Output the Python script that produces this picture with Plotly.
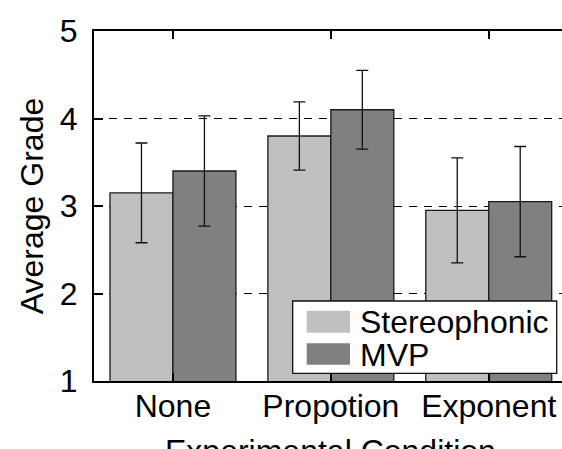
import plotly.graph_objects as go

# Experimental conditions and mean grades with error (half-range)
conditions = ["None", "Propotion", "Exponent"]
stereo_mean = [3.15, 3.80, 2.95]
stereo_err = [0.57, 0.39, 0.60]
mvp_mean = [3.40, 4.10, 3.05]
mvp_err = [0.63, 0.45, 0.63]
series_names = ["Stereophonic", "MVP"]
y_ticks = [1, 2, 3, 4, 5]

W, H = 562, 449
ML, MT, MB, MR = 94, 31, 68, 0
PW, PH = W - ML - MR, H - MT - MB

FONT = "Liberation Sans, Arial, sans-serif"
FS = 32
C_STEREO = "#c0c0c0"
C_MVP = "#808080"
EDGE = "#1a1a1a"


def px_x(p):
    return (p - ML) / PW


def px_y(p):
    return (H - MB - p) / PH


err_style = dict(type="data", width=6, thickness=1.3, color="#111111")

fig = go.Figure()
fig.add_trace(go.Bar(
    x=conditions, y=stereo_mean, name=series_names[0],
    marker=dict(color=C_STEREO, line=dict(color=EDGE, width=1.3)),
    error_y=dict(array=stereo_err, **err_style), showlegend=False,
))
fig.add_trace(go.Bar(
    x=conditions, y=mvp_mean, name=series_names[1],
    marker=dict(color=C_MVP, line=dict(color=EDGE, width=1.3)),
    error_y=dict(array=mvp_err, **err_style), showlegend=False,
))

# hand-built legend box with wide swatches
shapes = [
    dict(type="rect", xref="paper", yref="paper", layer="above",
         x0=px_x(292.7), x1=px_x(556.7), y0=px_y(373.3), y1=px_y(301),
         fillcolor="white", line=dict(color="#111111", width=1.3)),
    dict(type="rect", xref="paper", yref="paper", layer="above",
         x0=px_x(306.7), x1=px_x(350), y0=px_y(332.7), y1=px_y(310.7),
         fillcolor=C_STEREO, line=dict(width=0)),
    dict(type="rect", xref="paper", yref="paper", layer="above",
         x0=px_x(306.7), x1=px_x(350), y0=px_y(364.7), y1=px_y(343.3),
         fillcolor=C_MVP, line=dict(width=0)),
]
annotations = [
    dict(text=series_names[0], xref="paper", yref="paper",
         x=px_x(358), y=px_y(321.5), xanchor="left", yanchor="middle",
         showarrow=False, font=dict(family=FONT, size=FS, color="black")),
    dict(text=series_names[1], xref="paper", yref="paper",
         x=px_x(358), y=px_y(354.5), xanchor="left", yanchor="middle",
         showarrow=False, font=dict(family=FONT, size=FS, color="black")),
    dict(text="Experimental Condition", xref="x", yref="paper",
         x=1, y=px_y(431), xanchor="center", yanchor="top",
         showarrow=False, font=dict(family=FONT, size=FS, color="black")),
]

fig.update_layout(
    width=W, height=H,
    margin=dict(l=ML, r=MR, t=MT, b=MB, pad=0),
    paper_bgcolor="white", plot_bgcolor="white",
    barmode="group", bargap=0.2025, bargroupgap=0,
    font=dict(family=FONT, size=FS, color="black"),
    shapes=shapes, annotations=annotations,
    xaxis=dict(
        range=[-0.5, 2.464], showgrid=False,
        showline=True, linecolor="black", linewidth=2, mirror="ticks",
        ticks="inside", ticklen=8, tickwidth=1.5, tickcolor="black",
        ticklabelstandoff=-4,
        tickfont=dict(family=FONT, size=FS, color="black"),
    ),
    yaxis=dict(
        title=dict(text="Average Grade", standoff=7,
                   font=dict(family=FONT, size=FS, color="black")),
        range=[1, 5], tickvals=y_ticks,
        showline=True, linecolor="black", linewidth=2,
        ticks="inside", ticklen=9, tickwidth=1.5, tickcolor="black",
        ticklabelstandoff=8,
        showgrid=True, gridcolor="black", gridwidth=1.2, griddash="8px,7px",
        zeroline=False,
        tickfont=dict(family=FONT, size=FS, color="black"),
    ),
)

fig.write_html("out.html")
